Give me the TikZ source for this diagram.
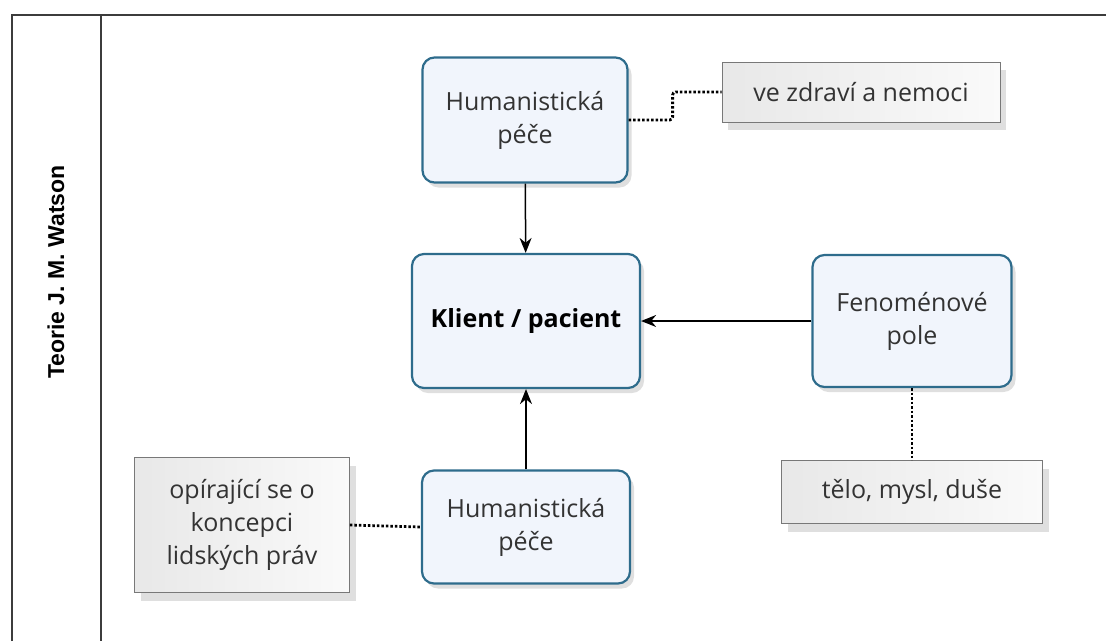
\documentclass[tikz,border=0pt]{standalone}
\usepackage{fontspec}
\setmainfont{Open Sans}
\newfontfamily\titlefont{Liberation Sans}
\usetikzlibrary{arrows.meta,shadows}

\definecolor{conceptline}{RGB}{46,108,140}
\definecolor{conceptfill}{RGB}{241,245,252}
\definecolor{noteline}{RGB}{120,120,120}
\definecolor{frameline}{RGB}{60,60,60}

\begin{document}
\begin{tikzpicture}[x=1pt,y=-1pt,
    concept/.style={draw=conceptline,line width=2.2pt,rounded corners=12pt,fill=conceptfill,
        align=center,inner sep=0pt,font=\fontsize{25}{33}\selectfont,text=black!80,
        drop shadow={shadow xshift=4pt,shadow yshift=-5pt,opacity=.25}},
    note/.style={draw=noteline,line width=.8pt,left color=black!9,right color=black!2,
        align=center,inner sep=0pt,font=\fontsize{25}{33}\selectfont,text=black!80,
        drop shadow={shadow xshift=6pt,shadow yshift=-8pt,opacity=.25}},
    link/.style={line width=2.8pt,dash pattern=on 2.5pt off 2pt,rounded corners=3pt},
    arr/.style={line width=1.5pt,-{Stealth[length=15pt,width=12pt]}}]
  \useasboundingbox (0,0) rectangle (1106,641);

  % frame
  \draw[frameline,line width=1.8pt] (12,641) -- (12,15) -- (1106,15);
  \draw[frameline,line width=1.8pt] (101,15) -- (101,641);
  \node[rotate=90,font=\titlefont\bfseries\fontsize{23}{26}\selectfont] (title) at (56,272) {Teorie J. M. Watson};

  % concepts
  \node[concept,minimum width=205,minimum height=125] (hum1) at (525,120) {Humanistická\\péče};
  \node[concept,minimum width=228,minimum height=134,font=\bfseries\fontsize{25}{33}\selectfont,text=black] (klient) at (526,321) {Klient / pacient};
  \node[concept,minimum width=199,minimum height=132] (feno) at (912,321) {Fenoménové\\pole};
  \node[concept,minimum width=208,minimum height=113] (hum2) at (526,527) {Humanistická\\péče};

  % notes
  \node[note,minimum width=278,minimum height=60] (zdravi) at (861,92) {ve zdraví a nemoci};
  \node[note,minimum width=215,minimum height=135] (prava) at (242,525) {opírající se o\\koncepci\\lidských práv};
  \node[note,minimum width=261,minimum height=63] (telo) at (912,492) {tělo, mysl, duše};

  \draw[link] (hum1.east) -- ++(44,0) |- (zdravi.west);
  \draw[link] (feno.south) -- (telo.north);
  \draw[link] (prava.east) -- (hum2.west);

  \draw[arr] (hum1) -- (klient);
  \draw[arr] (feno) -- (klient);
  \draw[arr] (hum2) -- (klient);
\end{tikzpicture}
\end{document}
